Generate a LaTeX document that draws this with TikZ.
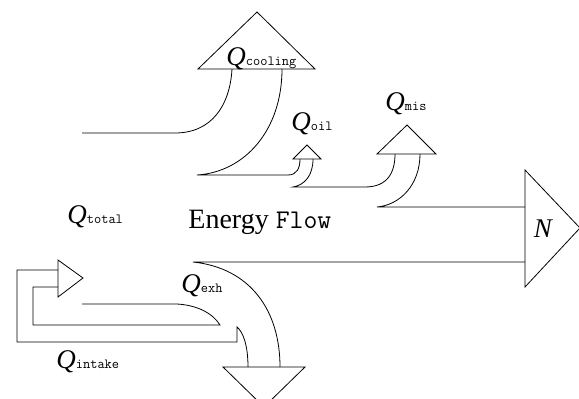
\documentclass[tikz,border=0pt]{standalone}
\usepackage{fontspec}
\setmainfont{Liberation Serif}
\newcommand{\flowq}[1]{{\fontsize{27}{27}\selectfont\itshape Q}{\fontsize{14}{14}\selectfont\ttfamily #1}}

\begin{document}
\begin{tikzpicture}[x=1pt, y=-1pt, line width=0.8pt,
    lbl/.style={inner sep=0pt, anchor=base west}]
    \useasboundingbox (0,0) rectangle (579,399);

    % Nodes
    \node[lbl] (Qcooling) at (226,65) {\flowq{cooling}};
    \node[lbl] (Qoil) at (291,130) {\flowq{oil}};
    \node[lbl] (Qmis) at (385,110) {\flowq{mis}};
    \node[lbl] (Qtotal) at (67,223) {\flowq{total}};
    \node[lbl] (flow) at (188,228) {\fontsize{28}{28}\selectfont Energy {\fontsize{27}{27}\selectfont\ttfamily Flow}};
    \node[lbl] (Qexh) at (181,292) {\flowq{exh}};
    \node[lbl] (Qintake) at (56,368) {\flowq{intake}};
    \node (N) at (543,229) {\fontsize{27}{27}\selectfont\itshape N};

    % Arrow heads
    \draw (198,69) -- (257,12) -- (315,69) -- cycle;
    \draw (293,159) -- (307,145) -- (321,159) -- cycle;
    \draw (377,154) -- (407,125) -- (436,154) -- cycle;
    \draw (525,170) -- (580,228) -- (525,287) -- cycle;
    \draw (223,367) -- (264,407) -- (305,367) -- cycle;
    \draw (58,260) -- (83,278) -- (58,297) -- cycle;

    % Flows
    \draw (82,133) -- (175,133) .. controls (212,133) and (230,105) .. (232,69);
    \draw (282,69) .. controls (282,130) and (245,172) .. (197,175) -- (288,175)
        .. controls (297,175) and (300,168) .. (300,159);
    \draw (313,159) .. controls (313,175) and (305,185) .. (293,187) -- (365,187)
        .. controls (388,187) and (395,172) .. (395,154);
    \draw (420,154) .. controls (420,185) and (400,205) .. (377,207) -- (525,207);
    \draw (525,262) -- (193,262) .. controls (250,268) and (280,310) .. (280,367);

    % Intake loop
    \draw (248,367) .. controls (248,345) and (243,332) .. (237,327) -- (237,342)
        -- (17,342) -- (17,270) -- (58,270);
    \draw (58,287) -- (33,287) -- (33,325) -- (220,325)
        .. controls (212,312) and (195,305) .. (177,304) -- (82,304);
\end{tikzpicture}
\end{document}
